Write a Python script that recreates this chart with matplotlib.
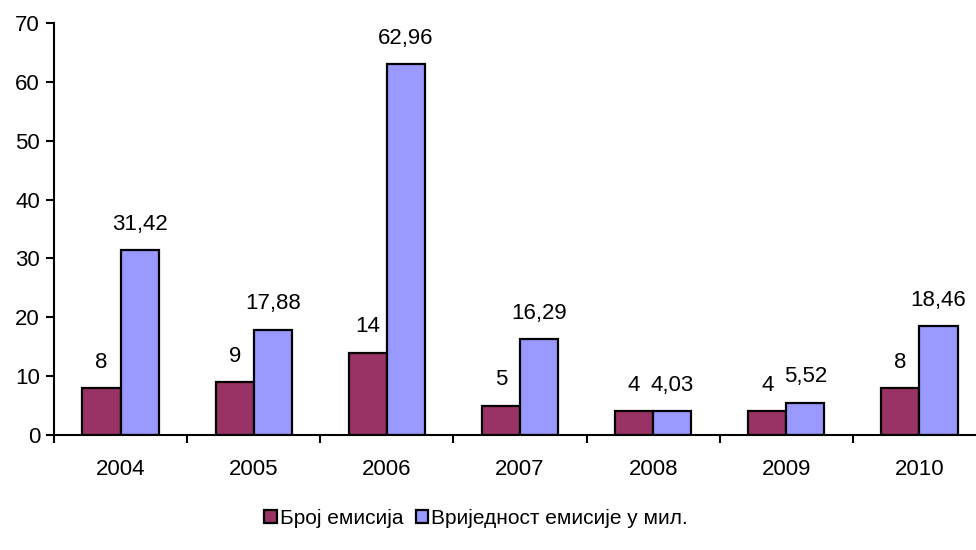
import matplotlib.pyplot as plt
import numpy as np

plt.rcParams['font.family'] = ['Liberation Sans', 'DejaVu Sans']

years = ['2004', '2005', '2006', '2007', '2008', '2009', '2010']
broj = [8, 9, 14, 5, 4, 4, 8]
vrijednost = [31.42, 17.88, 62.96, 16.29, 4.03, 5.52, 18.46]
broj_labels = ['8', '9', '14', '5', '4', '4', '8']
vrij_labels = ['31,42', '17,88', '62,96', '16,29', '4,03', '5,52', '18,46']

fig = plt.figure(figsize=(9.76, 5.5), dpi=100)
ax = fig.add_axes([54 / 976, 1 - 435 / 550, (986 - 54) / 976, (435 - 23) / 550])

x = np.arange(len(years))
w = 0.286
b1 = ax.bar(x - w / 2, broj, w, color='#993366', edgecolor='black', linewidth=1.6,
            label='Број емисија')
b2 = ax.bar(x + w / 2, vrijednost, w, color='#9999FF', edgecolor='black', linewidth=1.6,
            label='Вриједност емисије у мил.')

for rect, lab in zip(b1, broj_labels):
    ax.annotate(lab, (rect.get_x() + rect.get_width() / 2, rect.get_height()),
                xytext=(0, 11), textcoords='offset points', ha='center', va='bottom',
                fontsize=16)
for rect, lab in zip(b2, vrij_labels):
    ax.annotate(lab, (rect.get_x() + rect.get_width() / 2, rect.get_height()),
                xytext=(0, 11), textcoords='offset points', ha='center', va='bottom',
                fontsize=16)

ax.set_xlim(-0.5, len(years) - 0.5)
ax.set_ylim(0, 70)
ax.set_yticks(range(0, 71, 10))
ax.tick_params(axis='y', labelsize=16, length=6, width=1.5, direction='out', pad=4)

ax.set_xticks(x)
ax.set_xticklabels(years)
ax.tick_params(axis='x', which='major', length=0, labelsize=16, pad=17)
ax.set_xticks(np.arange(-0.5, len(years)), minor=True)
ax.tick_params(axis='x', which='minor', length=6, width=1.5, direction='out')

for s in ['top', 'right']:
    ax.spines[s].set_visible(False)
for s in ['left', 'bottom']:
    ax.spines[s].set_linewidth(1.5)

fig.legend(loc='center', bbox_to_anchor=(476 / 976, 1 - 518 / 550), ncol=2,
           frameon=False, fontsize=15, handlelength=0.6, handleheight=0.6,
           handletextpad=0.15, columnspacing=0.6)

fig.savefig('out.png', dpi=100)
